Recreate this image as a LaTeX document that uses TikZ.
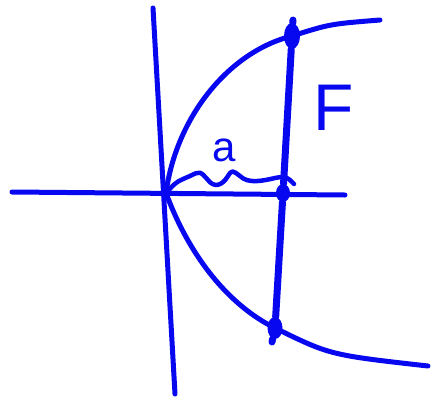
\documentclass[tikz,border=0pt]{standalone}
\usepackage{fontspec}
\setmainfont{Liberation Sans}
\usepackage{xcolor}
\usetikzlibrary{arrows.meta,positioning,shapes.geometric}
\definecolor{penblue}{RGB}{8,8,240}
\begin{document}
\begin{tikzpicture}[x=1pt, y=-1pt, line cap=round, line join=round]
\useasboundingbox (0,0) rectangle (439,405);
\tikzset{ink/.style={draw=penblue, line width=5pt}, blob/.style={ellipse, fill=penblue, inner sep=0pt}}
% Define the points
\coordinate (O) at (166,193);
\node (top) at (292,36) [blob, minimum width=16pt, minimum height=26pt] {};
\node (focus) at (283,193) [blob, minimum width=14pt, minimum height=18pt] {};
\node (bot) at (275,328) [blob, minimum width=15pt, minimum height=22pt] {};

% Axes
\draw [ink] (12,192) -- (345,195);
\draw [ink] (153,8) -- (175,394);

% Parabola
\draw [ink] (O) .. controls (176,118) and (228,52) .. (top.center) .. controls (330,24) .. (380,20);
\draw [ink] (O) .. controls (190,258) and (230,306) .. (bot.center) .. controls (330,355) .. (428,366);

% Latus rectum
\draw [ink, line width=7pt] (293,20) -- (top) -- (focus) -- (bot) -- (272,342);

% Distance a
\draw [ink, line width=4.5pt] (O) .. controls (176,182) .. (190,176) .. controls (200,171) .. (208,180) .. controls (214,188) and (222,186) .. (228,176) .. controls (232,170) .. (240,176) .. controls (248,184) and (262,181) .. (275,178) .. controls (286,176) .. (294,184);
\node (a) at (224,150) [text=penblue, font=\fontsize{42}{42}\selectfont] {a};
\node (F) at (334,108) [text=penblue, font=\fontsize{66}{66}\selectfont] {F};
\end{tikzpicture}
\end{document}
